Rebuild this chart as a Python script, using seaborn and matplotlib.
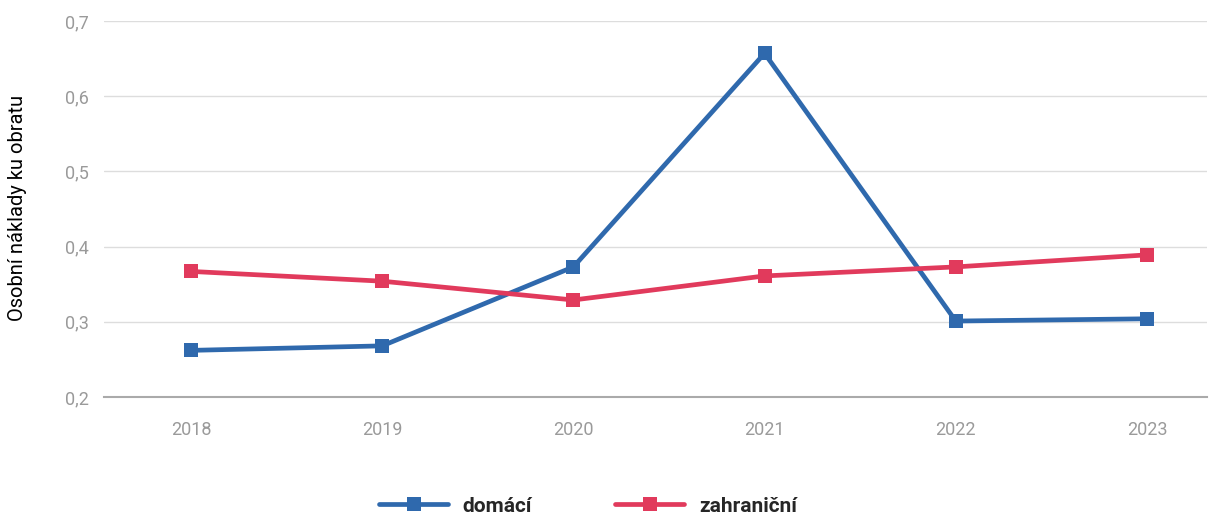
import pandas as pd
import seaborn as sns
import matplotlib.pyplot as plt

""" Data """
roky = ["2018", "2019", "2020", "2021", "2022", "2023"]
domaci = [0.262, 0.268, 0.373, 0.657, 0.301, 0.304]
zahranicni = [0.367, 0.354, 0.329, 0.361, 0.373, 0.389]

data = pd.DataFrame({
    "rok": list(range(len(roky))) * 2,
    "hodnota": domaci + zahranicni,
    "typ": ["domácí"] * len(roky) + ["zahraniční"] * len(roky),
})

""" Plot """
sns.set_style("white")
plt.rcParams['font.family'] = ['Roboto', 'DejaVu Sans']

fig = plt.figure(figsize=(12.11, 5.17), dpi=100)
ax = fig.add_axes([104 / 1211, 120 / 517, 1103 / 1211, 376 / 517])

palette = {"domácí": "#2f69ad", "zahraniční": "#e13a5c"}
sns.lineplot(data=data, x="rok", y="hodnota", hue="typ", style="typ",
             markers={"domácí": "s", "zahraniční": "s"}, dashes=False,
             palette=palette, linewidth=3.4, markersize=10,
             markeredgewidth=0, ax=ax)

ax.set_ylim(0.2, 0.7)
ax.set_xlim(-0.455, 5.314)
ax.set_xticks(range(len(roky)))
ax.set_xticklabels(roky)
ax.set_yticks([0.2, 0.3, 0.4, 0.5, 0.6, 0.7])
ax.set_yticklabels(["0,2", "0,3", "0,4", "0,5", "0,6", "0,7"])
ax.tick_params(axis="both", colors="#9a9a9a", labelsize=13, length=0)
ax.tick_params(axis="x", pad=17)
ax.tick_params(axis="y", pad=11)
ax.yaxis.grid(True, color="#dddddd", linewidth=1)
ax.set_axisbelow(True)
sns.despine(ax=ax, left=True, top=True, right=True)
ax.spines["bottom"].set_color("#aaaaaa")
ax.spines["bottom"].set_linewidth(1.5)

ax.set_xlabel("")
ax.set_ylabel("")
fig.text(18 / 1211, 1 - 208 / 517, "Osobní náklady ku obratu", fontsize=14.5,
         color="black", rotation=90, ha="center", va="center")

ax.legend(loc="center", bbox_to_anchor=(588 / 1211, 1 - 506 / 517),
          bbox_transform=fig.transFigure, ncol=2, frameon=False,
          handlelength=3.3, handletextpad=0.7, columnspacing=4.0,
          prop={"size": 15, "weight": "bold"})

plt.savefig("out.png", dpi=100)
